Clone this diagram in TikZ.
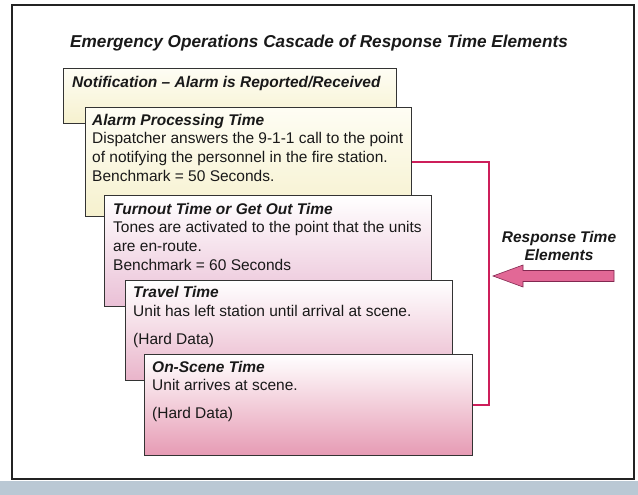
\documentclass[tikz,border=0pt]{standalone}
\usepackage{fontspec}
\setmainfont{Liberation Sans}
\definecolor{framecol}{RGB}{35,35,35}
\definecolor{creamtop}{RGB}{254,253,244}
\definecolor{creambot}{RGB}{246,241,206}
\definecolor{pinkmid}{RGB}{250,236,243}
\definecolor{pinkA}{RGB}{234,192,214}
\definecolor{pinkB}{RGB}{233,180,202}
\definecolor{pinkC}{RGB}{230,155,180}
\definecolor{bracketcol}{RGB}{205,30,90}
\definecolor{arrowfill}{RGB}{226,104,150}
\definecolor{arrowdraw}{RGB}{130,40,80}
\definecolor{stripcol}{RGB}{186,200,212}
\definecolor{txtcol}{RGB}{25,25,25}
\newcommand{\firstlines}[1]{\begin{tabular}[t]{@{}l@{}}#1\end{tabular}}
\newcommand{\firstlinec}[1]{\begin{tabular}[t]{@{}c@{}}#1\end{tabular}}
\begin{document}
\begin{tikzpicture}[x=1pt,y=-1pt,
  box/.style={draw=black!80, line width=0.8pt, anchor=north west, inner sep=0pt, rectangle},
  creambox/.style={box, top color=creamtop, bottom color=creambot},
  pinkbox/.style={box, top color=white, middle color=pinkmid, bottom color=#1},
  txt/.style={anchor=base west, inner sep=0pt, text=txtcol,
    font=\fontsize{15.5}{18.8}\selectfont},
  heading/.style={font=\fontsize{17.2}{20}\selectfont\bfseries\itshape, text=txtcol, inner sep=0pt},
  bracket/.style={draw=bracketcol, line width=1.5pt},
  bigarrow/.style={fill=arrowfill, draw=arrowdraw, line width=0.6pt}
]
\useasboundingbox (0,0) rectangle (638,495);
\fill[white] (0,0) rectangle (638,495);
\fill[stripcol] (0,481) rectangle (638,495);
\draw[framecol, line width=1.5pt] (12,5) rectangle (634,479);

\node[heading, anchor=base west] (title) at (70,48) {Emergency Operations Cascade of Response Time Elements};

% Box 1
\node[creambox, minimum width=333pt, minimum height=55pt] (b1) at (63,68) {};
\node[txt] (t1) at ([shift={(9,20)}]b1.north west) {\textbf{\textit{Notification – Alarm is Reported/Received}}};

% Box 2
\node[creambox, minimum width=326pt, minimum height=109pt] (b2) at (85,107) {};
\node[txt] (t2) at ([shift={(7,18)}]b2.north west) {\firstlines{\textbf{\textit{Alarm Processing Time}}\\
Dispatcher answers the 9-1-1 call to the point\\
of notifying the personnel in the fire station.\\
Benchmark = 50 Seconds.}};

% Box 3
\node[pinkbox=pinkA, minimum width=327pt, minimum height=111pt] (b3) at (104,195) {};
\node[txt] (t3) at ([shift={(9,19)}]b3.north west) {\firstlines{\textbf{\textit{Turnout Time or Get Out Time}}\\
Tones are activated to the point that the units\\
are en-route.\\
Benchmark = 60 Seconds}};

% Box 4
\node[pinkbox=pinkB, minimum width=327pt, minimum height=100pt] (b4) at (125,280) {};
\node[txt] (t4) at ([shift={(8,17.5)}]b4.north west) {\firstlines{\textbf{\textit{Travel Time}}\\
Unit has left station until arrival at scene.\\[9pt]
(Hard Data)}};

% Box 5
\node[pinkbox=pinkC, minimum width=328pt, minimum height=101pt] (b5) at (144,354) {};
\node[txt] (t5) at ([shift={(8,18)}]b5.north west) {\firstlines{\textbf{\textit{On-Scene Time}}\\
Unit arrives at scene.\\[9pt]
(Hard Data)}};

% Bracket
\draw[bracket] (b2.east) -- ++(77,0) coordinate (brk) |- (b5.east);

% Label and arrow
\node[heading, font=\fontsize{15.5}{18}\selectfont\bfseries\itshape, anchor=base] (rlabel) at (559,242) {\firstlinec{Response Time\\Elements}};
\coordinate (tip) at (493,276);
\draw[bigarrow] (tip) -- (523,265) -- (523,270.5) -- (614,270.5) -- (614,281.5) -- (523,281.5) -- (523,287) -- cycle;
\end{tikzpicture}
\end{document}
